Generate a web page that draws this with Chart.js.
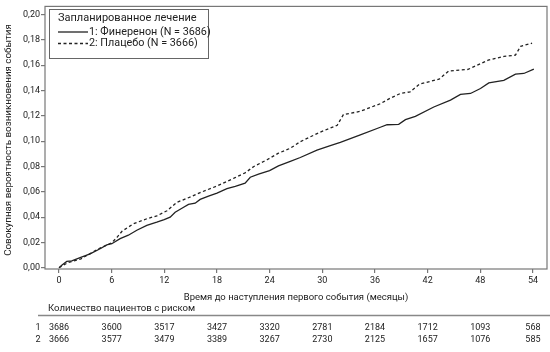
<!DOCTYPE html>
<html>
<head>
<meta charset="utf-8">
<script src="https://cdn.jsdelivr.net/npm/chart.js@4.4.0/dist/chart.umd.min.js"></script>
<style>
html, body { margin: 0; padding: 0; background: #fff; }
</style>
</head>
<body>
<canvas id="kmChart" width="550" height="352"></canvas>
<script>
// cumulative incidence
var finMonths = [0, 0.31, 0.88, 1.45, 2.4, 3.54, 4.68, 5.44, 6.01, 6.96, 7.9, 8.86, 10.0, 11.14, 11.98, 12.66, 13.23, 14.0, 14.75, 15.51, 16.08, 17.03, 18.0, 19.13, 20.08, 21.2, 21.79, 22.73, 23.99, 25.0, 26.35, 27.49, 29.39, 30.91, 32.05, 34.33, 36.61, 37.38, 38.7, 39.47, 40.6, 42.7, 44.6, 45.74, 46.88, 48.02, 48.97, 50.68, 52.01, 52.96, 54.1];
var finValues = [0, 0.002, 0.005, 0.0055, 0.008, 0.011, 0.015, 0.018, 0.019, 0.023, 0.0257, 0.0296, 0.0335, 0.036, 0.038, 0.040, 0.0438, 0.047, 0.050, 0.051, 0.054, 0.0566, 0.059, 0.0625, 0.0643, 0.0668, 0.0715, 0.074, 0.0768, 0.0805, 0.084, 0.0871, 0.093, 0.0965, 0.099, 0.105, 0.111, 0.113, 0.1133, 0.117, 0.1196, 0.127, 0.1325, 0.137, 0.1377, 0.1416, 0.146, 0.148, 0.153, 0.1535, 0.157];
var placMonths = [0, 1.0, 2.5, 3.5, 4.5, 6.0, 6.6, 7.2, 8.47, 10.0, 11.14, 12.3, 13.4, 15.0, 16.08, 18.0, 20.0, 21.2, 22.2, 23.7, 25.0, 26.35, 27.49, 29.7, 31.7, 32.4, 34.33, 36.6, 37.75, 38.9, 40.0, 41.06, 43.3, 44.4, 46.6, 48.9, 50.7, 52.0, 52.6, 53.9];
var placValues = [0, 0.004, 0.007, 0.011, 0.015, 0.0197, 0.024, 0.029, 0.0347, 0.0387, 0.041, 0.045, 0.0516, 0.056, 0.0594, 0.0646, 0.071, 0.075, 0.080, 0.0853, 0.0905, 0.0944, 0.0996, 0.107, 0.1126, 0.121, 0.1236, 0.1296, 0.134, 0.1377, 0.139, 0.145, 0.149, 0.1554, 0.1567, 0.164, 0.167, 0.168, 0.175, 0.1774];

var xTicks = [0, 6, 12, 18, 24, 30, 36, 42, 48, 54];
var yTicks = [0, 0.02, 0.04, 0.06, 0.08, 0.10, 0.12, 0.14, 0.16, 0.18, 0.20];
var atRisk1 = [3686, 3600, 3517, 3427, 3320, 2781, 2184, 1712, 1093, 568];
var atRisk2 = [3666, 3577, 3479, 3389, 3267, 2730, 2125, 1657, 1076, 585];

var seriesNames = ["1: Финеренон (N = 3686)", "2: Плацебо (N = 3666)"];
var legendTitle = "Запланированное лечение";
var xTitle = "Время до наступления первого события (месяцы)";
var yTitle = "Совокупная вероятность возникновения события";
var riskTitle = "Количество пациентов с риском";

var FONT = "Roboto, 'Noto Sans', sans-serif";
var AXIS = "#777";
var INK = "#222";

function toPoints(xs, ys) {
    var pts = [];
    for (var i = 0; i < xs.length; i++) {
        pts.push({x: xs[i], y: ys[i]});
    }
    return pts;
}

var extras = {
    id: 'extras',
    afterDraw: function (chart) {
        var ctx = chart.ctx;
        var a = chart.chartArea;
        var xs = chart.scales.x;
        ctx.save();

        // plot frame
        ctx.strokeStyle = AXIS;
        ctx.lineWidth = 1.2;
        ctx.strokeRect(a.left, a.top, a.right - a.left, a.bottom - a.top);

        // y title
        ctx.fillStyle = INK;
        ctx.font = "9.8px " + FONT;
        ctx.textAlign = "center";
        ctx.textBaseline = "middle";
        ctx.save();
        ctx.translate(8.5, 140);
        ctx.rotate(-Math.PI / 2);
        ctx.fillText(yTitle, 0, 0);
        ctx.restore();

        // x title
        ctx.font = "9.5px " + FONT;
        ctx.fillText(xTitle, (a.left + a.right) / 2, 297.5);

        // legend box
        ctx.strokeStyle = "#666";
        ctx.lineWidth = 1;
        ctx.strokeRect(49.5, 9.5, 159, 49);
        ctx.textAlign = "left";
        ctx.font = "11px " + FONT;
        ctx.fillText(legendTitle, 58, 18.5);
        ctx.strokeStyle = INK;
        ctx.lineWidth = 1.3;
        ctx.beginPath();
        ctx.moveTo(58, 32);
        ctx.lineTo(88, 32);
        ctx.stroke();
        ctx.setLineDash([3, 2.5]);
        ctx.beginPath();
        ctx.moveTo(58, 43.5);
        ctx.lineTo(88, 43.5);
        ctx.stroke();
        ctx.setLineDash([]);
        ctx.font = "10.8px " + FONT;
        ctx.fillText(seriesNames[0], 89, 32);
        ctx.fillText(seriesNames[1], 89, 43.5);

        // number at risk table
        ctx.font = "9.6px " + FONT;
        ctx.fillText(riskTitle, 48, 309);
        ctx.strokeStyle = "#888";
        ctx.lineWidth = 1.5;
        ctx.beginPath();
        ctx.moveTo(38, 315.5);
        ctx.lineTo(550, 315.5);
        ctx.stroke();

        ctx.font = "9px " + FONT;
        ctx.textAlign = "center";
        ctx.fillText("1", 38, 328);
        ctx.fillText("2", 38, 340);
        for (var i = 0; i < xTicks.length; i++) {
            var px = xs.getPixelForValue(xTicks[i]);
            ctx.fillText(String(atRisk1[i]), px, 328);
            ctx.fillText(String(atRisk2[i]), px, 340);
        }
        ctx.restore();
    }
};

var kmElem = document.getElementById("kmChart");
var kmChart = new Chart(kmElem, {
    type: 'line',
    data: {
        datasets: [
            {
                label: seriesNames[0],
                data: toPoints(finMonths, finValues),
                borderColor: INK,
                borderWidth: 1.3,
                pointRadius: 0,
                fill: false,
                tension: 0
            },
            {
                label: seriesNames[1],
                data: toPoints(placMonths, placValues),
                borderColor: INK,
                borderWidth: 1.3,
                borderDash: [3, 2.5],
                pointRadius: 0,
                fill: false,
                tension: 0
            }
        ]
    },
    options: {
        responsive: false,
        animation: false,
        layout: {padding: {top: 2, right: 3, left: 0, bottom: 0}},
        plugins: {
            legend: {display: false},
            tooltip: {enabled: false}
        },
        scales: {
            x: {
                type: 'linear',
                min: -1.6,
                max: 55.6,
                afterBuildTicks: function (scale) {
                    scale.ticks = xTicks.map(function (v) { return {value: v}; });
                },
                afterFit: function (scale) { scale.height = 83; },
                ticks: {
                    color: INK,
                    font: {family: FONT, size: 9},
                    padding: 2,
                    maxRotation: 0,
                    autoSkip: false
                },
                grid: {drawOnChartArea: false, drawTicks: true, tickLength: 4, color: AXIS, lineWidth: 1.2},
                border: {display: false}
            },
            y: {
                type: 'linear',
                min: -0.001,
                max: 0.2065,
                afterBuildTicks: function (scale) {
                    scale.ticks = yTicks.map(function (v) { return {value: v}; });
                },
                afterFit: function (scale) { scale.width = 45; },
                ticks: {
                    color: INK,
                    font: {family: FONT, size: 9},
                    padding: 1,
                    callback: function (v) { return Number(v).toFixed(2).replace('.', ','); }
                },
                grid: {drawOnChartArea: false, drawTicks: true, tickLength: 4, color: AXIS, lineWidth: 1.2},
                border: {display: false}
            }
        }
    },
    plugins: [extras]
});
</script>
</body>
</html>
